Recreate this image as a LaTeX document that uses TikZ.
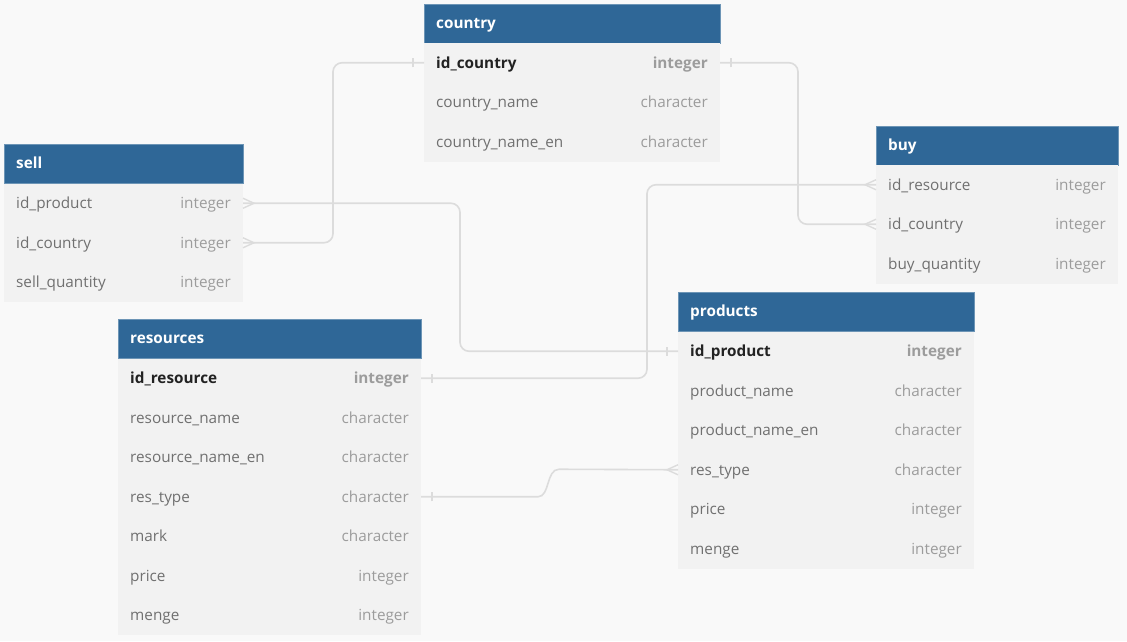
\documentclass[tikz,border=0pt]{standalone}
\usepackage{fontspec}
\setmainfont{Open Sans}
\definecolor{bgc}{HTML}{F9F9F9}
\definecolor{rowc}{HTML}{F2F2F2}
\definecolor{hdrc}{HTML}{2F6797}
\definecolor{namec}{HTML}{707070}
\definecolor{typec}{HTML}{9C9C9C}
\definecolor{pkc}{HTML}{222222}
\definecolor{linec}{HTML}{DCDCDC}
\newcommand{\erFont}{\fontsize{15.3}{17}\selectfont}
\tikzset{
  hdr/.style={fill=hdrc, draw=hdrc!70!white, line width=0.6pt, minimum height=39pt, inner sep=0pt, outer sep=0pt, anchor=north west},
  hdrtxt/.style={text=white, font=\erFont\bfseries, inner sep=0pt, anchor=base west},
  rowbg/.style={fill=rowc, minimum height=39.5pt, inner sep=0pt, outer sep=0pt, anchor=north west},
  plainname/.style={text=namec, font=\erFont, inner sep=0pt, anchor=base west},
  plaintype/.style={text=typec, font=\erFont, inner sep=0pt, anchor=base east},
  pkname/.style={text=pkc, font=\erFont\bfseries, inner sep=0pt, anchor=base west},
  pktype/.style={text=typec, font=\erFont\bfseries, inner sep=0pt, anchor=base east},
  conn/.style={draw=linec, line width=1.6pt, rounded corners=9pt},
  endmark/.style={draw=linec, line width=1.4pt},
}
% #1 name, #2 x, #3 y, #4 width, #5 field, #6 type, #7 kind (plain/pk)
\newcommand{\erRow}[7]{%
  \node[rowbg, minimum width=#4] (#1) at (#2,#3) {};
  \node[#7name] (#1n) at ([xshift=12pt,yshift=-5.5pt]#1.west) {#5};
  \node[#7type] (#1t) at ([xshift=-12pt,yshift=-5.5pt]#1.east) {#6};
}
\newcommand{\erHead}[5]{% #1 name, #2 x, #3 y, #4 width, #5 title
  \node[hdr, minimum width=#4] (#1) at (#2,#3) {};
  \node[hdrtxt] (#1txt) at ([xshift=12pt,yshift=-4.5pt]#1.west) {#5};
}
\begin{document}
\begin{tikzpicture}[x=1pt,y=-1pt]
\fill[bgc] (0,0) rectangle (1127,641);
\useasboundingbox (0,0) rectangle (1127,641);

% country
\erHead{country}{424}{4}{296}{country}
\erRow{c1}{424}{43}{296}{id\_country}{integer}{pk}
\erRow{c2}{424}{82.5}{296}{country\_name}{character}{plain}
\erRow{c3}{424}{122}{296}{country\_name\_en}{character}{plain}

% sell
\erHead{sell}{4}{144.5}{239}{sell}
\erRow{s1}{4}{183.5}{239}{id\_product}{integer}{plain}
\erRow{s2}{4}{223}{239}{id\_country}{integer}{plain}
\erRow{s3}{4}{262.5}{239}{sell\_quantity}{integer}{plain}

% buy
\erHead{buy}{876}{126}{242}{buy}
\erRow{b1}{876}{165}{242}{id\_resource}{integer}{plain}
\erRow{b2}{876}{204.5}{242}{id\_country}{integer}{plain}
\erRow{b3}{876}{244}{242}{buy\_quantity}{integer}{plain}

% products
\erHead{products}{678}{292.5}{296}{products}
\erRow{p1}{678}{331.5}{296}{id\_product}{integer}{pk}
\erRow{p2}{678}{371}{296}{product\_name}{character}{plain}
\erRow{p3}{678}{410.5}{296}{product\_name\_en}{character}{plain}
\erRow{p4}{678}{450}{296}{res\_type}{character}{plain}
\erRow{p5}{678}{489.5}{296}{price}{integer}{plain}
\erRow{p6}{678}{529}{296}{menge}{integer}{plain}

% resources
\erHead{resources}{118}{319.5}{303}{resources}
\erRow{r1}{118}{358.5}{303}{id\_resource}{integer}{pk}
\erRow{r2}{118}{398}{303}{resource\_name}{character}{plain}
\erRow{r3}{118}{437.5}{303}{resource\_name\_en}{character}{plain}
\erRow{r4}{118}{477}{303}{res\_type}{character}{plain}
\erRow{r5}{118}{516.5}{303}{mark}{character}{plain}
\erRow{r6}{118}{556}{303}{price}{integer}{plain}
\erRow{r7}{118}{595.5}{303}{menge}{integer}{plain}

% connectors
\draw[conn] (s1.east) -- ++(217,0) |- (p1.west);
\draw[conn] (s2.east) -- ++(90,0) |- (c1.west);
\draw[conn] (c1.east) -- ++(78,0) |- (b2.west);
\draw[conn] (r1.east) -- ++(226,0) |- (b1.west);
\draw[conn, rounded corners=0pt] (r4.east) -- (538,496.75) .. controls (550,496.75) and (546,469.25) .. (559,469.25) -- (p4.west);

% crow's feet (many)
\draw[endmark] ([yshift=-5pt]s1.east) -- ([xshift=11pt]s1.east) -- ([yshift=5pt]s1.east);
\draw[endmark] ([yshift=-5pt]s2.east) -- ([xshift=11pt]s2.east) -- ([yshift=5pt]s2.east);
\draw[endmark] ([yshift=-5pt]b1.west) -- ([xshift=-11pt]b1.west) -- ([yshift=5pt]b1.west);
\draw[endmark] ([yshift=-5pt]b2.west) -- ([xshift=-11pt]b2.west) -- ([yshift=5pt]b2.west);
\draw[endmark] ([yshift=-5pt]p4.west) -- ([xshift=-11pt]p4.west) -- ([yshift=5pt]p4.west);

% bars (one)
\draw[endmark] ([xshift=-11pt,yshift=-4.5pt]c1.west) -- ([xshift=-11pt,yshift=4.5pt]c1.west);
\draw[endmark] ([xshift=11pt,yshift=-4.5pt]c1.east) -- ([xshift=11pt,yshift=4.5pt]c1.east);
\draw[endmark] ([xshift=11pt,yshift=-4.5pt]r1.east) -- ([xshift=11pt,yshift=4.5pt]r1.east);
\draw[endmark] ([xshift=11pt,yshift=-4.5pt]r4.east) -- ([xshift=11pt,yshift=4.5pt]r4.east);
\draw[endmark] ([xshift=-11pt,yshift=-4.5pt]p1.west) -- ([xshift=-11pt,yshift=4.5pt]p1.west);
\end{tikzpicture}
\end{document}
